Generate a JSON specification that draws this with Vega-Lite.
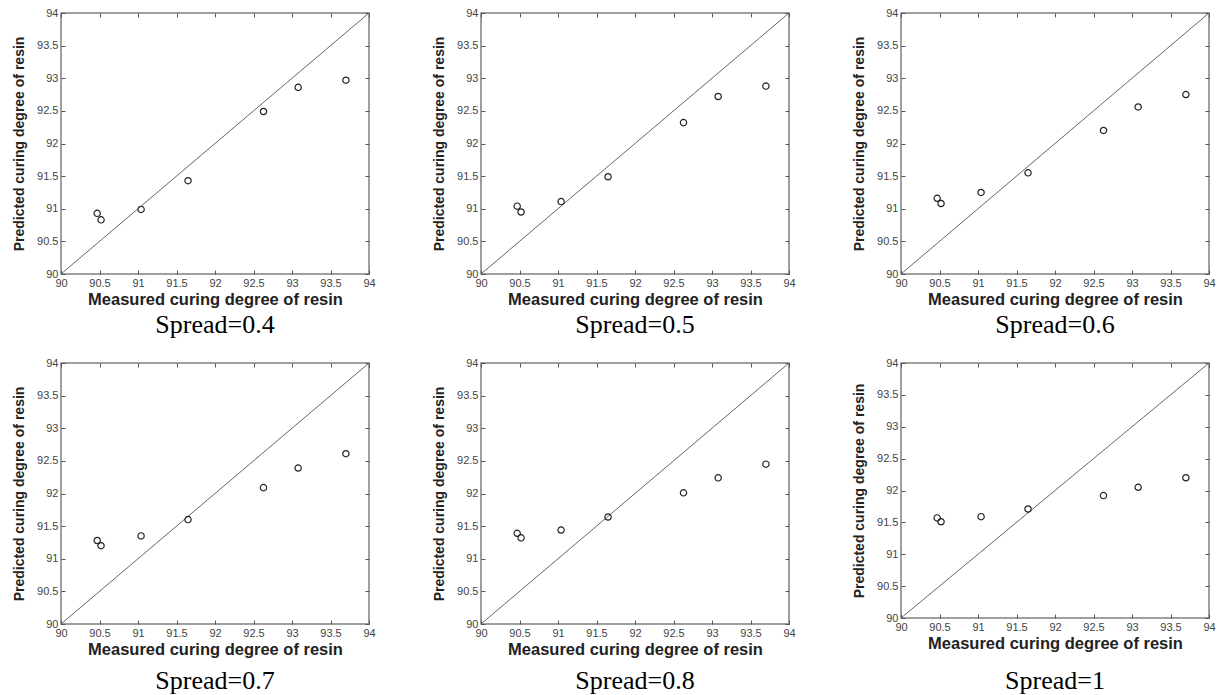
{
  "$schema": "https://vega.github.io/schema/vega-lite/v6.json",
  "background": "white",
  "padding": {"left": 11, "top": 6, "right": 2, "bottom": 2},
  "bounds": "flush",
  "columns": 3,
  "spacing": {"row": 89, "column": 112},
  "data": {"values": [
    {"spread": "0.4", "measured": 90.47, "predicted": 90.93},
    {"spread": "0.4", "measured": 90.52, "predicted": 90.83},
    {"spread": "0.4", "measured": 91.04, "predicted": 90.99},
    {"spread": "0.4", "measured": 91.65, "predicted": 91.43},
    {"spread": "0.4", "measured": 92.63, "predicted": 92.49},
    {"spread": "0.4", "measured": 93.08, "predicted": 92.86},
    {"spread": "0.4", "measured": 93.70, "predicted": 92.97},
    {"spread": "0.5", "measured": 90.47, "predicted": 91.04},
    {"spread": "0.5", "measured": 90.52, "predicted": 90.95},
    {"spread": "0.5", "measured": 91.04, "predicted": 91.11},
    {"spread": "0.5", "measured": 91.65, "predicted": 91.49},
    {"spread": "0.5", "measured": 92.63, "predicted": 92.32},
    {"spread": "0.5", "measured": 93.08, "predicted": 92.72},
    {"spread": "0.5", "measured": 93.70, "predicted": 92.88},
    {"spread": "0.6", "measured": 90.47, "predicted": 91.16},
    {"spread": "0.6", "measured": 90.52, "predicted": 91.08},
    {"spread": "0.6", "measured": 91.04, "predicted": 91.25},
    {"spread": "0.6", "measured": 91.65, "predicted": 91.55},
    {"spread": "0.6", "measured": 92.63, "predicted": 92.20},
    {"spread": "0.6", "measured": 93.08, "predicted": 92.56},
    {"spread": "0.6", "measured": 93.70, "predicted": 92.75},
    {"spread": "0.7", "measured": 90.47, "predicted": 91.28},
    {"spread": "0.7", "measured": 90.52, "predicted": 91.20},
    {"spread": "0.7", "measured": 91.04, "predicted": 91.35},
    {"spread": "0.7", "measured": 91.65, "predicted": 91.60},
    {"spread": "0.7", "measured": 92.63, "predicted": 92.09},
    {"spread": "0.7", "measured": 93.08, "predicted": 92.39},
    {"spread": "0.7", "measured": 93.70, "predicted": 92.61},
    {"spread": "0.8", "measured": 90.47, "predicted": 91.39},
    {"spread": "0.8", "measured": 90.52, "predicted": 91.32},
    {"spread": "0.8", "measured": 91.04, "predicted": 91.44},
    {"spread": "0.8", "measured": 91.65, "predicted": 91.64},
    {"spread": "0.8", "measured": 92.63, "predicted": 92.01},
    {"spread": "0.8", "measured": 93.08, "predicted": 92.24},
    {"spread": "0.8", "measured": 93.70, "predicted": 92.45},
    {"spread": "1", "measured": 90.47, "predicted": 91.57},
    {"spread": "1", "measured": 90.52, "predicted": 91.51},
    {"spread": "1", "measured": 91.04, "predicted": 91.59},
    {"spread": "1", "measured": 91.65, "predicted": 91.71},
    {"spread": "1", "measured": 92.63, "predicted": 91.92},
    {"spread": "1", "measured": 93.08, "predicted": 92.05},
    {"spread": "1", "measured": 93.70, "predicted": 92.20}
  ]},
  "concat": [
    {
      "width": 308, "height": 261,
      "title": {"text": "Spread=0.4", "offset": 4},
      "layer": [
        {"data": {"values": [{}]}, "mark": {"type": "rule", "color": "#666", "strokeWidth": 1},
         "encoding": {
           "x": {"datum": 90, "type": "quantitative", "scale": {"domain": [90, 94], "nice": false, "zero": false}, "axis": {"orient": "top", "labels": false, "title": null, "values": [90, 90.5, 91, 91.5, 92, 92.5, 93, 93.5, 94]}},
           "y": {"datum": 90, "type": "quantitative", "scale": {"domain": [90, 94], "nice": false, "zero": false}, "axis": {"orient": "right", "labels": false, "title": null, "values": [90, 90.5, 91, 91.5, 92, 92.5, 93, 93.5, 94]}},
           "x2": {"datum": 94}, "y2": {"datum": 94}}},
        {"transform": [{"filter": "datum.spread == '0.4'"}],
         "mark": {"type": "point", "shape": "circle", "filled": false, "size": 40, "strokeWidth": 1.2, "color": "#222", "opacity": 1},
         "encoding": {
           "x": {"field": "measured", "type": "quantitative", "scale": {"domain": [90, 94], "nice": false, "zero": false}, "axis": {"orient": "bottom", "title": "Measured curing degree of resin", "values": [90, 90.5, 91, 91.5, 92, 92.5, 93, 93.5, 94], "format": "~g"}},
           "y": {"field": "predicted", "type": "quantitative", "scale": {"domain": [90, 94], "nice": false, "zero": false}, "axis": {"orient": "left", "title": "Predicted curing degree of resin", "values": [90, 90.5, 91, 91.5, 92, 92.5, 93, 93.5, 94], "format": "~g"}}}}
      ],
      "resolve": {"axis": {"x": "independent", "y": "independent"}}
    },
    {
      "width": 308, "height": 261,
      "title": {"text": "Spread=0.5", "offset": 4},
      "layer": [
        {"data": {"values": [{}]}, "mark": {"type": "rule", "color": "#666", "strokeWidth": 1},
         "encoding": {
           "x": {"datum": 90, "type": "quantitative", "scale": {"domain": [90, 94], "nice": false, "zero": false}, "axis": {"orient": "top", "labels": false, "title": null, "values": [90, 90.5, 91, 91.5, 92, 92.5, 93, 93.5, 94]}},
           "y": {"datum": 90, "type": "quantitative", "scale": {"domain": [90, 94], "nice": false, "zero": false}, "axis": {"orient": "right", "labels": false, "title": null, "values": [90, 90.5, 91, 91.5, 92, 92.5, 93, 93.5, 94]}},
           "x2": {"datum": 94}, "y2": {"datum": 94}}},
        {"transform": [{"filter": "datum.spread == '0.5'"}],
         "mark": {"type": "point", "shape": "circle", "filled": false, "size": 40, "strokeWidth": 1.2, "color": "#222", "opacity": 1},
         "encoding": {
           "x": {"field": "measured", "type": "quantitative", "scale": {"domain": [90, 94], "nice": false, "zero": false}, "axis": {"orient": "bottom", "title": "Measured curing degree of resin", "values": [90, 90.5, 91, 91.5, 92, 92.5, 93, 93.5, 94], "format": "~g"}},
           "y": {"field": "predicted", "type": "quantitative", "scale": {"domain": [90, 94], "nice": false, "zero": false}, "axis": {"orient": "left", "title": "Predicted curing degree of resin", "values": [90, 90.5, 91, 91.5, 92, 92.5, 93, 93.5, 94], "format": "~g"}}}}
      ],
      "resolve": {"axis": {"x": "independent", "y": "independent"}}
    },
    {
      "width": 308, "height": 261,
      "title": {"text": "Spread=0.6", "offset": 4},
      "layer": [
        {"data": {"values": [{}]}, "mark": {"type": "rule", "color": "#666", "strokeWidth": 1},
         "encoding": {
           "x": {"datum": 90, "type": "quantitative", "scale": {"domain": [90, 94], "nice": false, "zero": false}, "axis": {"orient": "top", "labels": false, "title": null, "values": [90, 90.5, 91, 91.5, 92, 92.5, 93, 93.5, 94]}},
           "y": {"datum": 90, "type": "quantitative", "scale": {"domain": [90, 94], "nice": false, "zero": false}, "axis": {"orient": "right", "labels": false, "title": null, "values": [90, 90.5, 91, 91.5, 92, 92.5, 93, 93.5, 94]}},
           "x2": {"datum": 94}, "y2": {"datum": 94}}},
        {"transform": [{"filter": "datum.spread == '0.6'"}],
         "mark": {"type": "point", "shape": "circle", "filled": false, "size": 40, "strokeWidth": 1.2, "color": "#222", "opacity": 1},
         "encoding": {
           "x": {"field": "measured", "type": "quantitative", "scale": {"domain": [90, 94], "nice": false, "zero": false}, "axis": {"orient": "bottom", "title": "Measured curing degree of resin", "values": [90, 90.5, 91, 91.5, 92, 92.5, 93, 93.5, 94], "format": "~g"}},
           "y": {"field": "predicted", "type": "quantitative", "scale": {"domain": [90, 94], "nice": false, "zero": false}, "axis": {"orient": "left", "title": "Predicted curing degree of resin", "values": [90, 90.5, 91, 91.5, 92, 92.5, 93, 93.5, 94], "format": "~g"}}}}
      ],
      "resolve": {"axis": {"x": "independent", "y": "independent"}}
    },
    {
      "width": 308, "height": 261,
      "title": {"text": "Spread=0.7", "offset": 10},
      "layer": [
        {"data": {"values": [{}]}, "mark": {"type": "rule", "color": "#666", "strokeWidth": 1},
         "encoding": {
           "x": {"datum": 90, "type": "quantitative", "scale": {"domain": [90, 94], "nice": false, "zero": false}, "axis": {"orient": "top", "labels": false, "title": null, "values": [90, 90.5, 91, 91.5, 92, 92.5, 93, 93.5, 94]}},
           "y": {"datum": 90, "type": "quantitative", "scale": {"domain": [90, 94], "nice": false, "zero": false}, "axis": {"orient": "right", "labels": false, "title": null, "values": [90, 90.5, 91, 91.5, 92, 92.5, 93, 93.5, 94]}},
           "x2": {"datum": 94}, "y2": {"datum": 94}}},
        {"transform": [{"filter": "datum.spread == '0.7'"}],
         "mark": {"type": "point", "shape": "circle", "filled": false, "size": 40, "strokeWidth": 1.2, "color": "#222", "opacity": 1},
         "encoding": {
           "x": {"field": "measured", "type": "quantitative", "scale": {"domain": [90, 94], "nice": false, "zero": false}, "axis": {"orient": "bottom", "title": "Measured curing degree of resin", "values": [90, 90.5, 91, 91.5, 92, 92.5, 93, 93.5, 94], "format": "~g"}},
           "y": {"field": "predicted", "type": "quantitative", "scale": {"domain": [90, 94], "nice": false, "zero": false}, "axis": {"orient": "left", "title": "Predicted curing degree of resin", "values": [90, 90.5, 91, 91.5, 92, 92.5, 93, 93.5, 94], "format": "~g"}}}}
      ],
      "resolve": {"axis": {"x": "independent", "y": "independent"}}
    },
    {
      "width": 308, "height": 261,
      "title": {"text": "Spread=0.8", "offset": 10},
      "layer": [
        {"data": {"values": [{}]}, "mark": {"type": "rule", "color": "#666", "strokeWidth": 1},
         "encoding": {
           "x": {"datum": 90, "type": "quantitative", "scale": {"domain": [90, 94], "nice": false, "zero": false}, "axis": {"orient": "top", "labels": false, "title": null, "values": [90, 90.5, 91, 91.5, 92, 92.5, 93, 93.5, 94]}},
           "y": {"datum": 90, "type": "quantitative", "scale": {"domain": [90, 94], "nice": false, "zero": false}, "axis": {"orient": "right", "labels": false, "title": null, "values": [90, 90.5, 91, 91.5, 92, 92.5, 93, 93.5, 94]}},
           "x2": {"datum": 94}, "y2": {"datum": 94}}},
        {"transform": [{"filter": "datum.spread == '0.8'"}],
         "mark": {"type": "point", "shape": "circle", "filled": false, "size": 40, "strokeWidth": 1.2, "color": "#222", "opacity": 1},
         "encoding": {
           "x": {"field": "measured", "type": "quantitative", "scale": {"domain": [90, 94], "nice": false, "zero": false}, "axis": {"orient": "bottom", "title": "Measured curing degree of resin", "values": [90, 90.5, 91, 91.5, 92, 92.5, 93, 93.5, 94], "format": "~g"}},
           "y": {"field": "predicted", "type": "quantitative", "scale": {"domain": [90, 94], "nice": false, "zero": false}, "axis": {"orient": "left", "title": "Predicted curing degree of resin", "values": [90, 90.5, 91, 91.5, 92, 92.5, 93, 93.5, 94], "format": "~g"}}}}
      ],
      "resolve": {"axis": {"x": "independent", "y": "independent"}}
    },
    {
      "width": 308, "height": 255,
      "title": {"text": "Spread=1", "offset": 16},
      "layer": [
        {"data": {"values": [{}]}, "mark": {"type": "rule", "color": "#666", "strokeWidth": 1},
         "encoding": {
           "x": {"datum": 90, "type": "quantitative", "scale": {"domain": [90, 94], "nice": false, "zero": false}, "axis": {"orient": "top", "labels": false, "title": null, "values": [90, 90.5, 91, 91.5, 92, 92.5, 93, 93.5, 94]}},
           "y": {"datum": 90, "type": "quantitative", "scale": {"domain": [90, 94], "nice": false, "zero": false}, "axis": {"orient": "right", "labels": false, "title": null, "values": [90, 90.5, 91, 91.5, 92, 92.5, 93, 93.5, 94]}},
           "x2": {"datum": 94}, "y2": {"datum": 94}}},
        {"transform": [{"filter": "datum.spread == '1'"}],
         "mark": {"type": "point", "shape": "circle", "filled": false, "size": 40, "strokeWidth": 1.2, "color": "#222", "opacity": 1},
         "encoding": {
           "x": {"field": "measured", "type": "quantitative", "scale": {"domain": [90, 94], "nice": false, "zero": false}, "axis": {"orient": "bottom", "title": "Measured curing degree of resin", "values": [90, 90.5, 91, 91.5, 92, 92.5, 93, 93.5, 94], "format": "~g"}},
           "y": {"field": "predicted", "type": "quantitative", "scale": {"domain": [90, 94], "nice": false, "zero": false}, "axis": {"orient": "left", "title": "Predicted curing degree of resin", "values": [90, 90.5, 91, 91.5, 92, 92.5, 93, 93.5, 94], "format": "~g"}}}}
      ],
      "resolve": {"axis": {"x": "independent", "y": "independent"}}
    }
  ],
  "config": {
    "view": {"stroke": "#808080", "strokeWidth": 1.5},
    "axis": {
      "domain": false, "grid": false,
      "tickColor": "#555", "tickSize": -4, "tickWidth": 1,
      "labelFont": "Liberation Sans", "labelFontSize": 11, "labelColor": "#444",
      "labelFlush": false, "labelOverlap": false, "labelPadding": 7,
      "titleFont": "Liberation Sans", "titleFontWeight": "bold", "titleColor": "#222"
    },
    "axisX": {"titleFontSize": 16.5, "titlePadding": 3},
    "axisY": {"titleFontSize": 14, "titlePadding": 10},
    "title": {"orient": "bottom", "anchor": "middle", "font": "Liberation Serif", "fontSize": 26, "fontWeight": "normal", "color": "#000"}
  }
}
